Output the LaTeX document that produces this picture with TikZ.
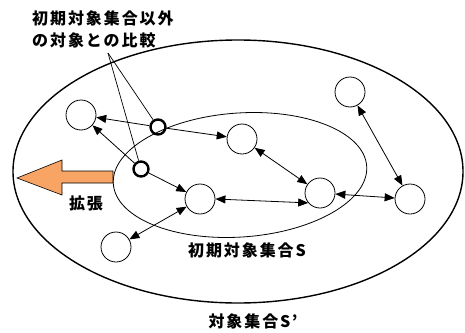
\documentclass[tikz,border=0pt]{standalone}
\usepackage{fontspec}
\newfontfamily\jp{Noto Sans CJK JP}[LetterSpace=12]
\usetikzlibrary{arrows.meta,shapes.geometric}
\definecolor{arroworange}{RGB}{248,164,100}
\tikzset{
  obj/.style={circle,draw,line width=0.8pt,minimum size=30pt,inner sep=0pt},
  cmp/.style={circle,draw,line width=2.4pt,minimum size=15pt,inner sep=0pt},
  arr/.style={line width=0.8pt,-{Triangle[length=10pt,width=8pt]}},
  darr/.style={line width=0.8pt,{Triangle[length=10pt,width=8pt]}-{Triangle[length=10pt,width=8pt]}},
  lbl/.style={font=\jp\bfseries\fontsize{16pt}{18pt}\selectfont,inner sep=0pt},
  lead/.style={line width=0.7pt},
}
\begin{document}
\begin{tikzpicture}[x=1pt,y=-1pt]
\useasboundingbox (0,0) rectangle (465,332);
% sets
\draw[line width=1.4pt] (238,171.5) ellipse [x radius=225, y radius=131.5];
\draw[line width=0.8pt,rotate around={4:(240,175)}] (240,175) ellipse [x radius=127, y radius=62];
% expansion arrow
\draw[line width=0.6pt,fill=arroworange] (17,178) -- (62,160) -- (62,171) -- (113,171) -- (113,183) -- (62,183) -- (62,195) -- cycle;
% objects
\node[obj] (c1) at (81,115) {};
\node[obj] (c2) at (350,92) {};
\node[obj] (c3) at (242,139) {};
\node[obj] (c4) at (320,193) {};
\node[obj] (c5) at (410,199) {};
\node[obj] (c6) at (200,199) {};
\node[obj] (c7) at (116,247) {};
\node[cmp] (A) at (158,127) {};
\node[cmp] (B) at (141,169) {};
% comparisons
\draw[arr] (A) -- (c1);
\draw[arr] (A) -- (c3);
\draw[arr] (B) -- (c1);
\draw[arr] (B) -- (c6);
\draw[darr] (c3) -- (c4);
\draw[darr] (c6.east) -- (c4.220);
\draw[darr] (c4) -- (c5);
\draw[darr] (c2) -- (c5);
\draw[darr] (c6) -- (c7);
% labels
\coordinate (lp) at (108,53);
\draw[lead] (lp) -- (A);
\draw[lead] (lp) -- (B);
\node[lbl,anchor=west] (t1) at (32,18) {初期対象集合以外};
\node[lbl,anchor=west] (t2) at (32,40) {の対象との比較};
\node[lbl] (t3) at (86,203) {拡張};
\node[lbl] (t4) at (247,250) {初期対象集合S};
\node[lbl] (t5) at (253,321) {対象集合S’};
\end{tikzpicture}
\end{document}
